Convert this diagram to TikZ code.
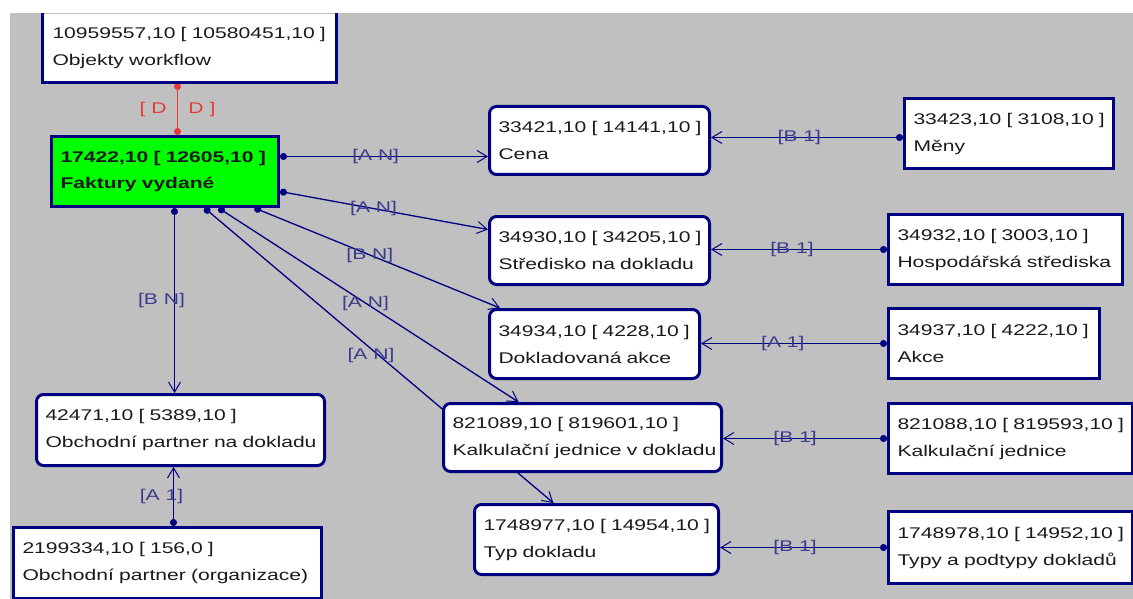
\documentclass[tikz,border=0pt]{standalone}
\usepackage{fontspec}
\setmainfont{Liberation Sans}[FakeStretch=1.36]
\usetikzlibrary{arrows.meta}
\definecolor{navy}{HTML}{000080}
\definecolor{bggray}{HTML}{C0C0C0}
\definecolor{lblc}{HTML}{3C3C8C}
\definecolor{txt}{HTML}{1A1A1A}
\definecolor{fgreen}{HTML}{00FF00}
\definecolor{relred}{HTML}{E8383C}
\pgfdeclarelayer{bg}\pgfdeclarelayer{edges}\pgfsetlayers{bg,edges,main}
\tikzset{
 ent/.style={draw=navy, line width=3pt, fill=white, anchor=north west, inner xsep=9pt, inner ysep=0pt,
   align=left, font=\fontsize{15.5}{27}\selectfont, text=txt},
 rent/.style={ent, rounded corners=7pt},
 rel/.style={draw=navy, line width=1.3pt, {Circle[length=7pt]}-{Straight Barb[length=10pt,width=12pt,line width=1pt]}},
 lbl/.style={text=lblc, font=\fontsize{15.5}{18}\selectfont, inner sep=0pt},
}
\begin{document}
\begin{tikzpicture}[x=1pt,y=-1pt]
\useasboundingbox (0,0) rectangle (1133,599);
\begin{pgfonlayer}{bg}\fill[bggray] (10,13) rectangle (1133,599);\end{pgfonlayer}

% entities
\node[ent, draw=none, minimum width=291pt, minimum height=67pt, text width=273pt] (obj) at (42,13)
  {\mbox{10959557,10 [ 10580451,10 ]}\\Objekty workflow};
\draw[navy, line width=3pt] (obj.north west) -- (obj.south west) -- (obj.south east) -- (obj.north east);
\node[ent, fill=fgreen, font=\fontsize{15.5}{26}\selectfont\bfseries, minimum width=227pt, minimum height=70pt, text width=209pt] (fak) at (50,135)
  {\mbox{17422,10 [ 12605,10 ]}\\Faktury vydané};
\node[rent, minimum width=220pt, minimum height=68pt, text width=202pt] (cena) at (488,105) {\mbox{33421,10 [ 14141,10 ]}\\Cena};
\node[ent, minimum width=209pt, minimum height=70pt, text width=191pt] (meny) at (903,97) {\mbox{33423,10 [ 3108,10 ]}\\Měny};
\node[rent, minimum width=220pt, minimum height=68pt, text width=202pt] (str) at (488,215) {\mbox{34930,10 [ 34205,10 ]}\\\mbox{Středisko na dokladu}};
\node[ent, minimum width=234pt, minimum height=70pt, text width=216pt] (hosp) at (887,213) {\mbox{34932,10 [ 3003,10 ]}\\\mbox{Hospodářská střediska}};
\node[rent, minimum width=210pt, minimum height=69pt, text width=192pt] (dok) at (488,308) {\mbox{34934,10 [ 4228,10 ]}\\\mbox{Dokladovaná akce}};
\node[ent, minimum width=211pt, minimum height=70pt, text width=193pt] (akce) at (887,307) {\mbox{34937,10 [ 4222,10 ]}\\Akce};
\node[rent, minimum width=278pt, minimum height=68pt, text width=260pt] (kvd) at (442,402) {\mbox{821089,10 [ 819601,10 ]}\\\mbox{Kalkulační jednice v dokladu}};
\node[ent, minimum width=244pt, minimum height=70pt, text width=226pt] (kalk) at (887,402) {\mbox{821088,10 [ 819593,10 ]}\\\mbox{Kalkulační jednice}};
\node[rent, minimum width=244pt, minimum height=70pt, text width=226pt] (typ) at (473,503) {\mbox{1748977,10 [ 14954,10 ]}\\\mbox{Typ dokladu}};
\node[ent, minimum width=244pt, minimum height=72pt, text width=226pt] (typy) at (887,510) {\mbox{1748978,10 [ 14952,10 ]}\\\mbox{Typy a podtypy dokladů}};
\node[rent, minimum width=288pt, minimum height=71pt, text width=270pt] (obd) at (35,393) {\mbox{42471,10 [ 5389,10 ]}\\\mbox{Obchodní partner na dokladu}};
\node[ent, minimum width=308pt, minimum height=71pt, text width=290pt] (org) at (12,526) {\mbox{2199334,10 [ 156,0 ]}\\\mbox{Obchodní partner (organizace)}};

% relations
\begin{pgfonlayer}{edges}
\draw[draw=relred, line width=1.3pt, {Circle[length=7pt]}-{Circle[length=7pt]}]
  ([xshift=-11.5pt]obj.south) -- node[lbl, text=relred]{[ D\hspace{22pt}D ]} ([xshift=12.5pt]fak.north);
\draw[rel] ([yshift=15pt]fak.east) -- node[lbl, pos=0.46]{[A N]} ([yshift=-16pt]cena.west);
\draw[rel] ([yshift=-20pt]fak.east) -- node[lbl, pos=0.45]{[A N]} ([yshift=21pt]str.west);
\draw[rel] ([xshift=89.5pt]fak.south) -- node[lbl, pos=0.47]{[B N]} ([xshift=12pt]dok.north west);
\draw[rel] ([xshift=53.5pt]fak.south) -- node[lbl, pos=0.49]{[A N]} ([xshift=-64pt]kvd.north);
\draw[rel] ([xshift=39.5pt]fak.south) -- node[lbl, pos=0.5, xshift=-8pt]{[A N]} ([xshift=-43pt]typ.north);
\draw[rel] ([xshift=9.5pt]fak.south) -- node[lbl, xshift=-13pt]{[B N]} ([xshift=-6pt]obd.north);
\draw[rel] ([xshift=6pt]org.north) -- node[lbl, xshift=-12pt]{[A 1]} ([xshift=-7pt]obd.south);
\draw[rel] ([yshift=-4pt]meny.west) -- node[lbl, pos=0.54]{[B 1]} ([yshift=-4pt]meny.west -| cena.east);
\draw[rel] (hosp.west) -- node[lbl, pos=0.54]{[B 1]} (hosp.west -| str.east);
\draw[rel] (akce.west) -- node[lbl, pos=0.56]{[A 1]} (akce.west -| dok.east);
\draw[rel] (kalk.west) -- node[lbl, pos=0.56]{[B 1]} (kalk.west -| kvd.east);
\draw[rel] (typy.west) -- node[lbl, pos=0.55]{[B 1]} (typy.west -| typ.east);
\end{pgfonlayer}
\end{tikzpicture}
\end{document}
